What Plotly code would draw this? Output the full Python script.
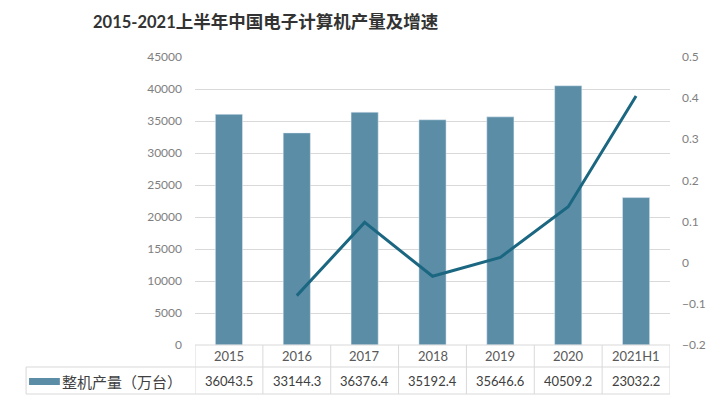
import plotly.graph_objects as go

categories = ["2015", "2016", "2017", "2018", "2019", "2020", "2021H1"]
output_values = [36043.5, 33144.3, 36376.4, 35192.4, 35646.6, 40509.2, 23032.2]
value_labels = ["36043.5", "33144.3", "36376.4", "35192.4", "35646.6", "40509.2", "23032.2"]
growth_values = [None, -0.080, 0.098, -0.033, 0.013, 0.136, 0.405]
series_name = "整机产量（万台）"
title_digits = "2015-2021"
title_cjk = "上半年中国电子计算机产量及增速"

BAR_COLOR = "#5b8ea6"
LINE_COLOR = "#1b6781"
GRID = "#d9d9d9"
NUM_FAMILY = "Lato, Liberation Sans, sans-serif"
TICK_FONT = dict(family=NUM_FAMILY, size=12, color="#7f7f7f")
CJK = "Noto Sans CJK SC, sans-serif"

fig = go.Figure()
fig.add_trace(go.Bar(x=categories, y=output_values, marker_color=BAR_COLOR,
                     width=0.4, name=series_name, showlegend=False))
fig.add_trace(go.Scatter(x=categories, y=growth_values, mode="lines", yaxis="y2",
                         line=dict(color=LINE_COLOR, width=3), showlegend=False,
                         connectgaps=False))

L, R, T, B = 195, 45, 57, 50
W, H = 718, 395
pw = W - L - R
ph = H - T - B

title_html = ("<b><span style='font-family:Lato;font-size:16.5px'>" + title_digits +
              "</span>" + title_cjk + "</b>")

fig.update_layout(
    width=W, height=H,
    margin=dict(l=L, r=R, t=T, b=B),
    paper_bgcolor="white", plot_bgcolor="white",
    title=dict(text=title_html, x=93 / W, xanchor="left",
               y=1 - 22 / H, yanchor="middle",
               font=dict(family=CJK, size=17.5, color="#333333")),
    xaxis=dict(type="category", showticklabels=False, showgrid=False, zeroline=False,
               showline=False, ticks="", range=[-0.5, 6.5]),
    yaxis=dict(range=[0, 45000], dtick=5000, showgrid=True, gridcolor=GRID,
               gridwidth=1, zeroline=False, showline=False, tickfont=TICK_FONT,
               ticks="", ticklabelstandoff=12, tickformat="d"),
    yaxis2=dict(range=[-0.2, 0.5], dtick=0.1, overlaying="y", side="right",
                showgrid=False, zeroline=False, showline=False, tickfont=TICK_FONT,
                ticks="", ticklabelstandoff=11, tickformat="~g"),
)

shapes = []
line_style = dict(color=GRID, width=1)
shapes.append(dict(type="line", xref="paper", yref="paper", x0=0, x1=1,
                   y0=0, y1=0, line=line_style))
shapes.append(dict(type="line", xref="paper", yref="paper", x0=(25 - L) / pw, x1=1,
                   y0=-22 / ph, y1=-22 / ph, line=line_style))
shapes.append(dict(type="line", xref="paper", yref="paper", x0=(25 - L) / pw, x1=1,
                   y0=-49 / ph, y1=-49 / ph, line=line_style))
for i in range(len(categories) + 1):
    shapes.append(dict(type="line", xref="x", yref="paper", x0=i - 0.5, x1=i - 0.5,
                       y0=0, y1=-49 / ph, line=line_style))
shapes.append(dict(type="line", xref="paper", yref="paper", x0=(25 - L) / pw,
                   x1=(25 - L) / pw, y0=-22 / ph, y1=-49 / ph, line=line_style))
shapes.append(dict(type="rect", xref="paper", yref="paper", x0=(28 - L) / pw,
                   x1=(59 - L) / pw, y0=-(33 / ph), y1=-(40 / ph),
                   fillcolor=BAR_COLOR, line=dict(width=0)))

annotations = []
for i, c in enumerate(categories):
    annotations.append(dict(x=i, xref="x", y=-11 / ph, yref="paper", text=c,
                            showarrow=False, xanchor="center", yanchor="middle",
                            font=dict(family=NUM_FAMILY, size=13, color="#595959")))
for i, v in enumerate(value_labels):
    annotations.append(dict(x=i, xref="x", y=-36 / ph, yref="paper", text=v,
                            showarrow=False, xanchor="center", yanchor="middle",
                            font=dict(family=NUM_FAMILY, size=13, color="#404040")))
annotations.append(dict(x=(59 - L) / pw, xref="paper", y=-36 / ph, yref="paper",
                        text=series_name, showarrow=False, xanchor="left",
                        yanchor="middle",
                        font=dict(family=CJK, size=15, color="#404040")))

fig.update_layout(shapes=shapes, annotations=annotations)
fig.write_html("out.html", config={"displayModeBar": False},
               post_script="document.body.style.margin='0';")
